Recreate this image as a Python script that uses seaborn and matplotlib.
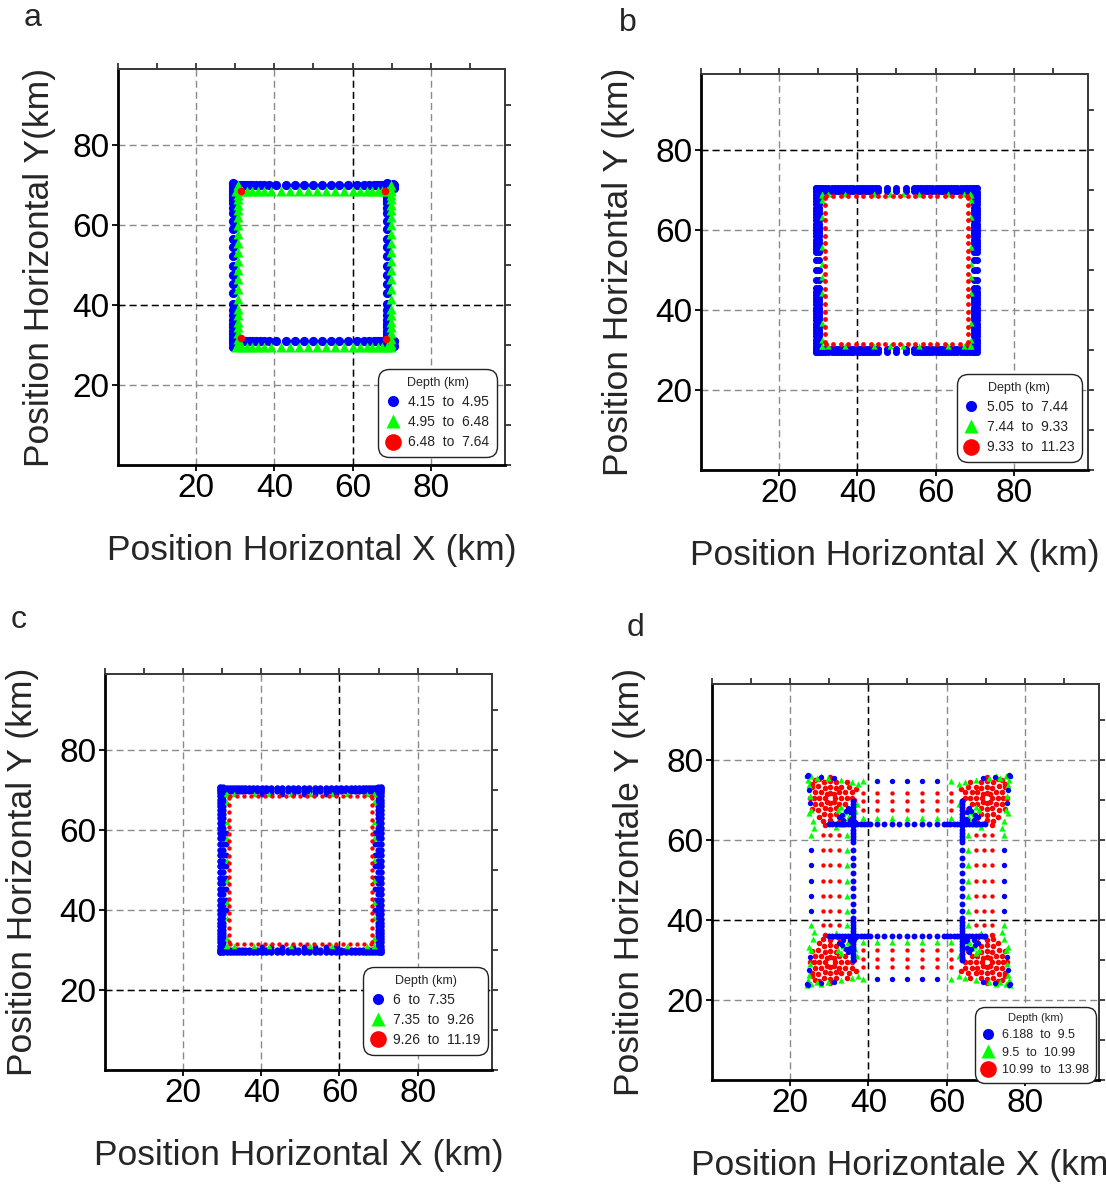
import numpy as np
import pandas as pd
import matplotlib.pyplot as plt
from matplotlib.lines import Line2D
import seaborn as sns

sns.set_style("white")
plt.rcParams['font.family'] = ['Liberation Sans', 'DejaVu Sans']

BLUE, GREEN, RED = '#0000ff', '#00ff00', '#ff0000'

# ---------------- panel a ----------------
a_blue_along = [29.6, 30.4, 31.2, 32.0, 32.8, 33.6, 34.4, 35.3, 36.3, 37.4, 38.7, 40.3, 42.9,
                45.3, 47.5, 49.8, 52.2, 54.4, 56.6, 58.9, 61.1, 62.9, 64.3, 65.4, 66.3, 67.1,
                67.8, 68.5, 69.2, 69.9, 70.5]
a_blue_sides = [70.0, 30.9, 29.5, 68.8]        # top, bottom, left, right
a_blue_corner_x = [70.3, 70.6, 70.3, 70.6, 29.7, 29.7]
a_blue_corner_y = [70.2, 69.3, 30.4, 29.7, 70.3, 30.2]
a_green_along = [30.2, 31.6, 33.0, 34.4, 35.8, 37.4, 39.1, 41.6, 44.1, 46.4, 48.7, 51.0, 53.3,
                 55.5, 57.8, 60.0, 62.0, 63.7, 65.1, 66.4, 67.6, 68.8, 69.9]
a_green_sides = [68.5, 29.5, 30.7, 69.9]
a_red_x = [31.4, 31.4, 68.4, 68.6]
a_red_y = [68.4, 31.8, 68.6, 31.5]

# ---------------- panel b ----------------
b_blue_along = [29.4, 30.2, 31.0, 31.8, 32.6, 33.4, 34.2, 35.0, 35.8, 36.6, 37.4, 38.2, 39.0,
                39.8, 40.6, 41.4, 42.2, 43.0, 43.8, 44.6, 45.4, 47.6, 49.9, 52.4, 54.4, 55.2,
                56.0, 56.8, 57.6, 58.4, 59.2, 60.0, 60.8, 61.6, 62.4, 63.2, 64.0, 64.8, 65.6,
                66.4, 67.2, 68.0, 68.8, 69.6, 70.4]
b_blue_outer = [70.6, 29.4, 29.4, 70.6]
b_blue_inner = [69.8, 30.2, 30.3, 69.8]
b_green_along = [31.0, 32.6, 36.8, 44.2, 48.3, 51.6, 55.8, 63.2, 67.4, 68.8]
b_green_sides = [69.1, 30.9, 31.0, 69.0]
b_red_along = [32.0, 33.9, 35.8, 37.7, 39.6, 41.5, 43.4, 45.3, 47.2, 49.1, 51.0, 52.9, 54.8,
               56.7, 58.6, 60.5, 62.4, 64.3, 66.2, 68.1]
b_red_sides = [68.6, 31.5, 31.6, 68.4]

# ---------------- panel c ----------------
c_blue_along = [29.5, 30.3, 31.1, 31.9, 32.7, 33.5, 34.3, 35.1, 35.9, 36.8, 37.8, 38.9, 40.1,
                41.3, 42.6, 43.9, 45.3, 46.7, 48.1, 49.5, 50.9, 52.3, 53.7, 55.1, 56.5, 57.9,
                59.2, 60.5, 61.7, 62.9, 64.0, 65.0, 65.9, 66.8, 67.6, 68.4, 69.2, 70.0, 70.7]
c_blue_outer = [70.5, 29.4, 29.4, 70.5]
c_blue_inner = [69.8, 30.1, 30.2, 69.8]
c_blue_streak_along = [40.1, 42.6, 45.3, 48.1, 50.9, 53.7, 56.5, 59.2]
c_blue_streak_sides = [69.1, 30.8, 30.9, 69.1]
c_green_along = [31.0, 33.0, 38.0, 42.0, 47.5, 52.5, 58.0, 62.0, 67.0, 68.9]
c_green_sides = [69.0, 31.0, 31.1, 68.9]
c_red_along = [32.0, 33.8, 35.6, 37.4, 39.2, 41.0, 42.8, 44.6, 46.4, 48.2, 50.0, 51.8, 53.6,
               55.4, 57.2, 59.0, 60.8, 62.6, 64.4, 66.2, 68.0]
c_red_sides = [68.4, 31.6, 31.7, 68.3]

# ---------------- panel d ----------------
# inner blue square (distance from model centre 50 km)
d_inner_along = [30.0, 30.8, 31.6, 32.4, 33.2, 34.0, 34.8, 35.6, 36.4, 37.2, 38.0, 38.8, 39.6,
                 40.4, 42.2, 44.1, 46.0, 47.9, 49.8, 51.7, 53.7, 55.6, 57.5, 59.4, 60.2, 61.0,
                 61.8, 62.6, 63.4, 64.2, 65.0, 65.8, 66.6, 67.4, 68.2, 69.0, 69.8]
d_inner_dist = 14.0
# rays perpendicular to the sides
d_ray_along = [38.7, 42.2, 46.0, 49.8, 53.7, 57.5, 61.2]
d_ray_red_dist = [21.7, 19.7, 17.6]
d_ray_green_dist = [15.6]
d_ray_outer_dist = 24.8
d_ray_outer_blue = [42.2, 46.0, 49.8, 53.7, 57.5]
d_ray_outer_green = [38.7, 61.2]
# corner fans: (u, v) = distance inward from the outer corner
d_corner_x = [24.0, 76.5, 24.0, 76.5]
d_corner_y = [76.5, 76.5, 23.5, 23.5]
d_corner_red_u = [7.5, 7.1, 6.2, 5.3, 4.9, 5.3, 6.2, 7.1,
                  9.0, 8.6, 7.6, 6.2, 4.8, 3.8, 3.4, 3.8, 4.8, 6.2, 7.6, 8.6,
                  10.4, 10.1, 7.8, 6.2, 4.6, 3.2, 2.3, 2.0, 2.3, 3.2, 4.6, 6.2, 7.8, 9.0, 10.1,
                  11.7, 11.0, 6.2, 3.4, 1.5, 1.0, 1.5, 3.4, 6.2, 11.0,
                  11.8, 4.5, 12.3, 6.6, 1.6, 2.4, 10.6, 8.6, 12.8, 5.0]
d_corner_red_v = [6.0, 6.9, 7.3, 6.9, 6.0, 5.1, 4.7, 5.1,
                  6.0, 7.4, 8.4, 8.8, 8.4, 7.4, 6.0, 4.6, 3.6, 3.2, 3.6, 4.6,
                  6.0, 7.6, 9.9, 10.2, 9.9, 9.0, 7.6, 6.0, 4.4, 3.0, 2.1, 1.8, 2.1, 3.2, 4.4,
                  6.0, 8.7, 11.5, 10.8, 8.7, 6.0, 3.3, 1.2, 0.8, 3.3,
                  4.5, 11.8, 6.6, 12.3, 2.4, 1.6, 2.0, 12.0, 3.8, 12.8]
d_corner_green_u = [0.3, 1.4, 0.5, 2.8, 0.9, 5.6, 1.1, 9.0, 1.4, 11.7, 1.9,
                    8.3, 8.9, 9.5, 10.0, 10.7, 11.1, 11.8, 12.2, 12.6, 9.2, 13.2, 7.6,
                    3.9, 0.8, 13.4, 2.2]
d_corner_green_v = [0.3, 0.5, 1.4, 0.9, 2.8, 1.1, 5.6, 1.4, 9.0, 1.9, 11.7,
                    8.9, 8.3, 10.0, 9.5, 11.1, 10.7, 12.2, 11.8, 9.2, 12.6, 7.6, 13.2,
                    0.6, 9.8, 2.4, 13.4]
d_corner_blue_u = [0.6, 0.2, 4.0, 0.7, 7.3, 1.1, 10.8, 8.4, 11.4, 9.6, 11.2, 11.6, 12.0, 12.6,
                   10.3, 9.3]
d_corner_blue_v = [0.2, 0.6, 0.7, 4.0, 1.1, 7.3, 8.4, 10.8, 9.6, 11.4, 11.6, 11.2, 12.6, 12.0,
                   9.3, 10.3]

panel_letters = ['a', 'b', 'c', 'd']
depth_labels = {
    'a': ['4.15  to  4.95', '4.95  to  6.48', '6.48  to  7.64'],
    'b': ['5.05  to  7.44', '7.44  to  9.33', '9.33  to  11.23'],
    'c': ['6  to  7.35', '7.35  to  9.26', '9.26  to  11.19'],
    'd': ['6.188  to  9.5', '9.5  to  10.99', '10.99  to  13.98'],
}
x_titles = {'a': 'Position Horizontal X (km)', 'b': 'Position Horizontal X (km)',
            'c': 'Position Horizontal X (km)', 'd': 'Position Horizontale X (km)'}
y_titles = {'a': 'Position Horizontal Y(km)', 'b': 'Position Horizontal Y (km)',
            'c': 'Position Horizontal Y (km)', 'd': 'Position Horizontale Y (km)'}
major_ticks = [20, 40, 60, 80]
minor_ticks = [0, 10, 20, 30, 40, 50, 60, 70, 80, 90]


def on_square(along, sides):
    # place one along-edge list on the four sides (top, bottom, left, right)
    top, bottom, left, right = sides
    n = len(along)
    x = list(along) + list(along) + [left] * n + [right] * n
    y = [top] * n + [bottom] * n + list(along) + list(along)
    return x, y


def at_dist(along, dist):
    return on_square(along, (50 + dist, 50 - dist, 50 - dist, 50 + dist))


def at_corners(u, v):
    xs, ys = [], []
    for cx, cy in zip(d_corner_x, d_corner_y):
        sx = 1 if cx < 50 else -1
        sy = 1 if cy < 50 else -1
        xs += [cx + sx * a for a in u]
        ys += [cy + sy * b for b in v]
    return xs, ys


def frame(parts):
    rows = []
    for cls, size, (xs, ys) in parts:
        rows.append(pd.DataFrame({'x': xs, 'y': ys, 'cls': cls, 'size': size}))
    return pd.concat(rows, ignore_index=True)


df_a = frame([
    ('blue', 44, on_square(a_blue_along, a_blue_sides)),
    ('blue', 44, (a_blue_corner_x, a_blue_corner_y)),
    ('green', 52, on_square(a_green_along, a_green_sides)),
    ('red', 30, (a_red_x, a_red_y)),
])
df_b = frame([
    ('blue', 26, on_square(b_blue_along, b_blue_outer)),
    ('blue', 26, on_square(b_blue_along, b_blue_inner)),
    ('green', 20, on_square(b_green_along, b_green_sides)),
    ('red', 12, on_square(b_red_along, b_red_sides)),
])
df_c = frame([
    ('blue', 22, on_square(c_blue_along, c_blue_outer)),
    ('blue', 20, on_square(c_blue_along, c_blue_inner)),
    ('blue', 18, on_square(c_blue_streak_along, c_blue_streak_sides)),
    ('green', 16, on_square(c_green_along, c_green_sides)),
    ('red', 10, on_square(c_red_along, c_red_sides)),
])
d_parts = [('red', 16, at_corners(d_corner_red_u, d_corner_red_v))]
for dist in d_ray_red_dist:
    d_parts.append(('red', 10, at_dist(d_ray_along, dist)))
for dist in d_ray_green_dist:
    d_parts.append(('green', 20, at_dist(d_ray_along, dist)))
d_parts += [
    ('green', 20, at_dist(d_ray_outer_green, d_ray_outer_dist)),
    ('green', 20, at_corners(d_corner_green_u, d_corner_green_v)),
    ('blue', 15, at_dist(d_ray_outer_blue, d_ray_outer_dist)),
    ('blue', 15, at_corners(d_corner_blue_u, d_corner_blue_v)),
    ('blue', 18, at_dist(d_inner_along, d_inner_dist)),
]
df_d = frame(d_parts)

panels = {
    'a': dict(df=df_a, order=['blue', 'green', 'red'], rect=[0.1067, 0.6083, 0.3499, 0.3336],
              dark=(60, 40), leg=(0.979, 0.020), legfs=10.0, titlefs=9.0, ylab=-0.204),
    'b': dict(df=df_b, order=['blue', 'green', 'red'], rect=[0.6338, 0.6040, 0.3499, 0.3336],
              dark=(40, 80), leg=(0.984, 0.020), legfs=10.0, titlefs=9.0, ylab=-0.213),
    'c': dict(df=df_c, order=['blue', 'green', 'red'], rect=[0.0949, 0.0986, 0.3499, 0.3336],
              dark=(60, 20), leg=(0.990, 0.038), legfs=10.0, titlefs=9.0, ylab=-0.213),
    'd': dict(df=df_d, order=['red', 'green', 'blue'], rect=[0.6438, 0.0901, 0.3499, 0.3336],
              dark=(40, 40), leg=(0.992, -0.008), legfs=9.0, titlefs=8.0, ylab=-0.213),
}
colors = {'blue': BLUE, 'green': GREEN, 'red': RED}
markers = {'blue': 'o', 'green': '^', 'red': 'o'}
letter_pos = {'a': (33, 18), 'b': (628, 23), 'c': (19, 620), 'd': (636, 628)}

fig = plt.figure(figsize=(11.06, 11.87), dpi=100)

for key in panel_letters:
    p = panels[key]
    ax = fig.add_axes(p['rect'])
    df = p['df']
    for cls in p['order']:
        sub = df[df['cls'] == cls]
        for size, grp in sub.groupby('size'):
            sns.scatterplot(data=grp, x='x', y='y', color=colors[cls], marker=markers[cls],
                            s=size, linewidth=0, ax=ax, legend=False, zorder=3)

    ax.set_xlim(0, 99)
    ax.set_ylim(0, 99)
    ax.set_xticks(major_ticks)
    ax.set_yticks(major_ticks)
    ax.tick_params(direction='out', length=4, width=1.3, labelsize=24, pad=2,
                   bottom=True, left=True, colors='black')
    ax.grid(True, linestyle=(0, (5, 3)), color='#8a8a8a', linewidth=1.0)
    ax.set_axisbelow(True)
    ax.axvline(p['dark'][0], color='black', linestyle=(0, (5, 3)), linewidth=1.0, zorder=0.6)
    ax.axhline(p['dark'][1], color='black', linestyle=(0, (5, 3)), linewidth=1.0, zorder=0.6)
    for side in ['left', 'bottom']:
        ax.spines[side].set_linewidth(2.0)
        ax.spines[side].set_color('black')
    for side in ['top', 'right']:
        ax.spines[side].set_linewidth(1.3)
        ax.spines[side].set_color('#3a3a3a')

    top = ax.secondary_xaxis('top')
    top.set_xticks(minor_ticks)
    top.set_xticklabels([''] * len(minor_ticks))
    top.tick_params(direction='out', length=4, width=1.2, colors='#222222')
    top.spines['top'].set_linewidth(1.3)
    top.spines['top'].set_color('#3a3a3a')
    right = ax.secondary_yaxis('right')
    right.set_yticks(minor_ticks)
    right.set_yticklabels([''] * len(minor_ticks))
    right.tick_params(direction='out', length=4, width=1.2, colors='#222222')
    right.spines['right'].set_linewidth(1.3)
    right.spines['right'].set_color('#3a3a3a')

    ax.set_xlabel(x_titles[key], fontsize=25.5)
    ax.set_ylabel(y_titles[key], fontsize=25.5)
    ax.xaxis.set_label_coords(0.5, -0.217)
    ax.xaxis.label.set_va('center')
    ax.yaxis.set_label_coords(p['ylab'], 0.5)
    ax.yaxis.label.set_va('center')

    handles = [Line2D([], [], ls='none', marker='o', color=BLUE, markersize=8, mec='none'),
               Line2D([], [], ls='none', marker='^', color=GREEN, markersize=10, mec='none'),
               Line2D([], [], ls='none', marker='o', color=RED, markersize=12, mec='none')]
    leg = ax.legend(handles, depth_labels[key], title='Depth (km)', loc='lower right',
                    bbox_to_anchor=p['leg'], borderaxespad=0, fontsize=p['legfs'],
                    title_fontsize=p['titlefs'], frameon=True, fancybox=True,
                    edgecolor='#222222', framealpha=1, handletextpad=0.6,
                    labelspacing=0.45, borderpad=0.55, handlelength=1.0)
    leg.get_frame().set_linewidth(1.0)
    leg.get_frame().set_boxstyle('round', pad=0, rounding_size=0.8)
    leg.set_zorder(5)
    for t in leg.get_texts():
        t.set_color('#222222')

    lx, ly = letter_pos[key]
    fig.text(lx / 1106, 1 - ly / 1187, key, fontsize=23, ha='center', va='center')

fig.savefig('out.png', dpi=100)
